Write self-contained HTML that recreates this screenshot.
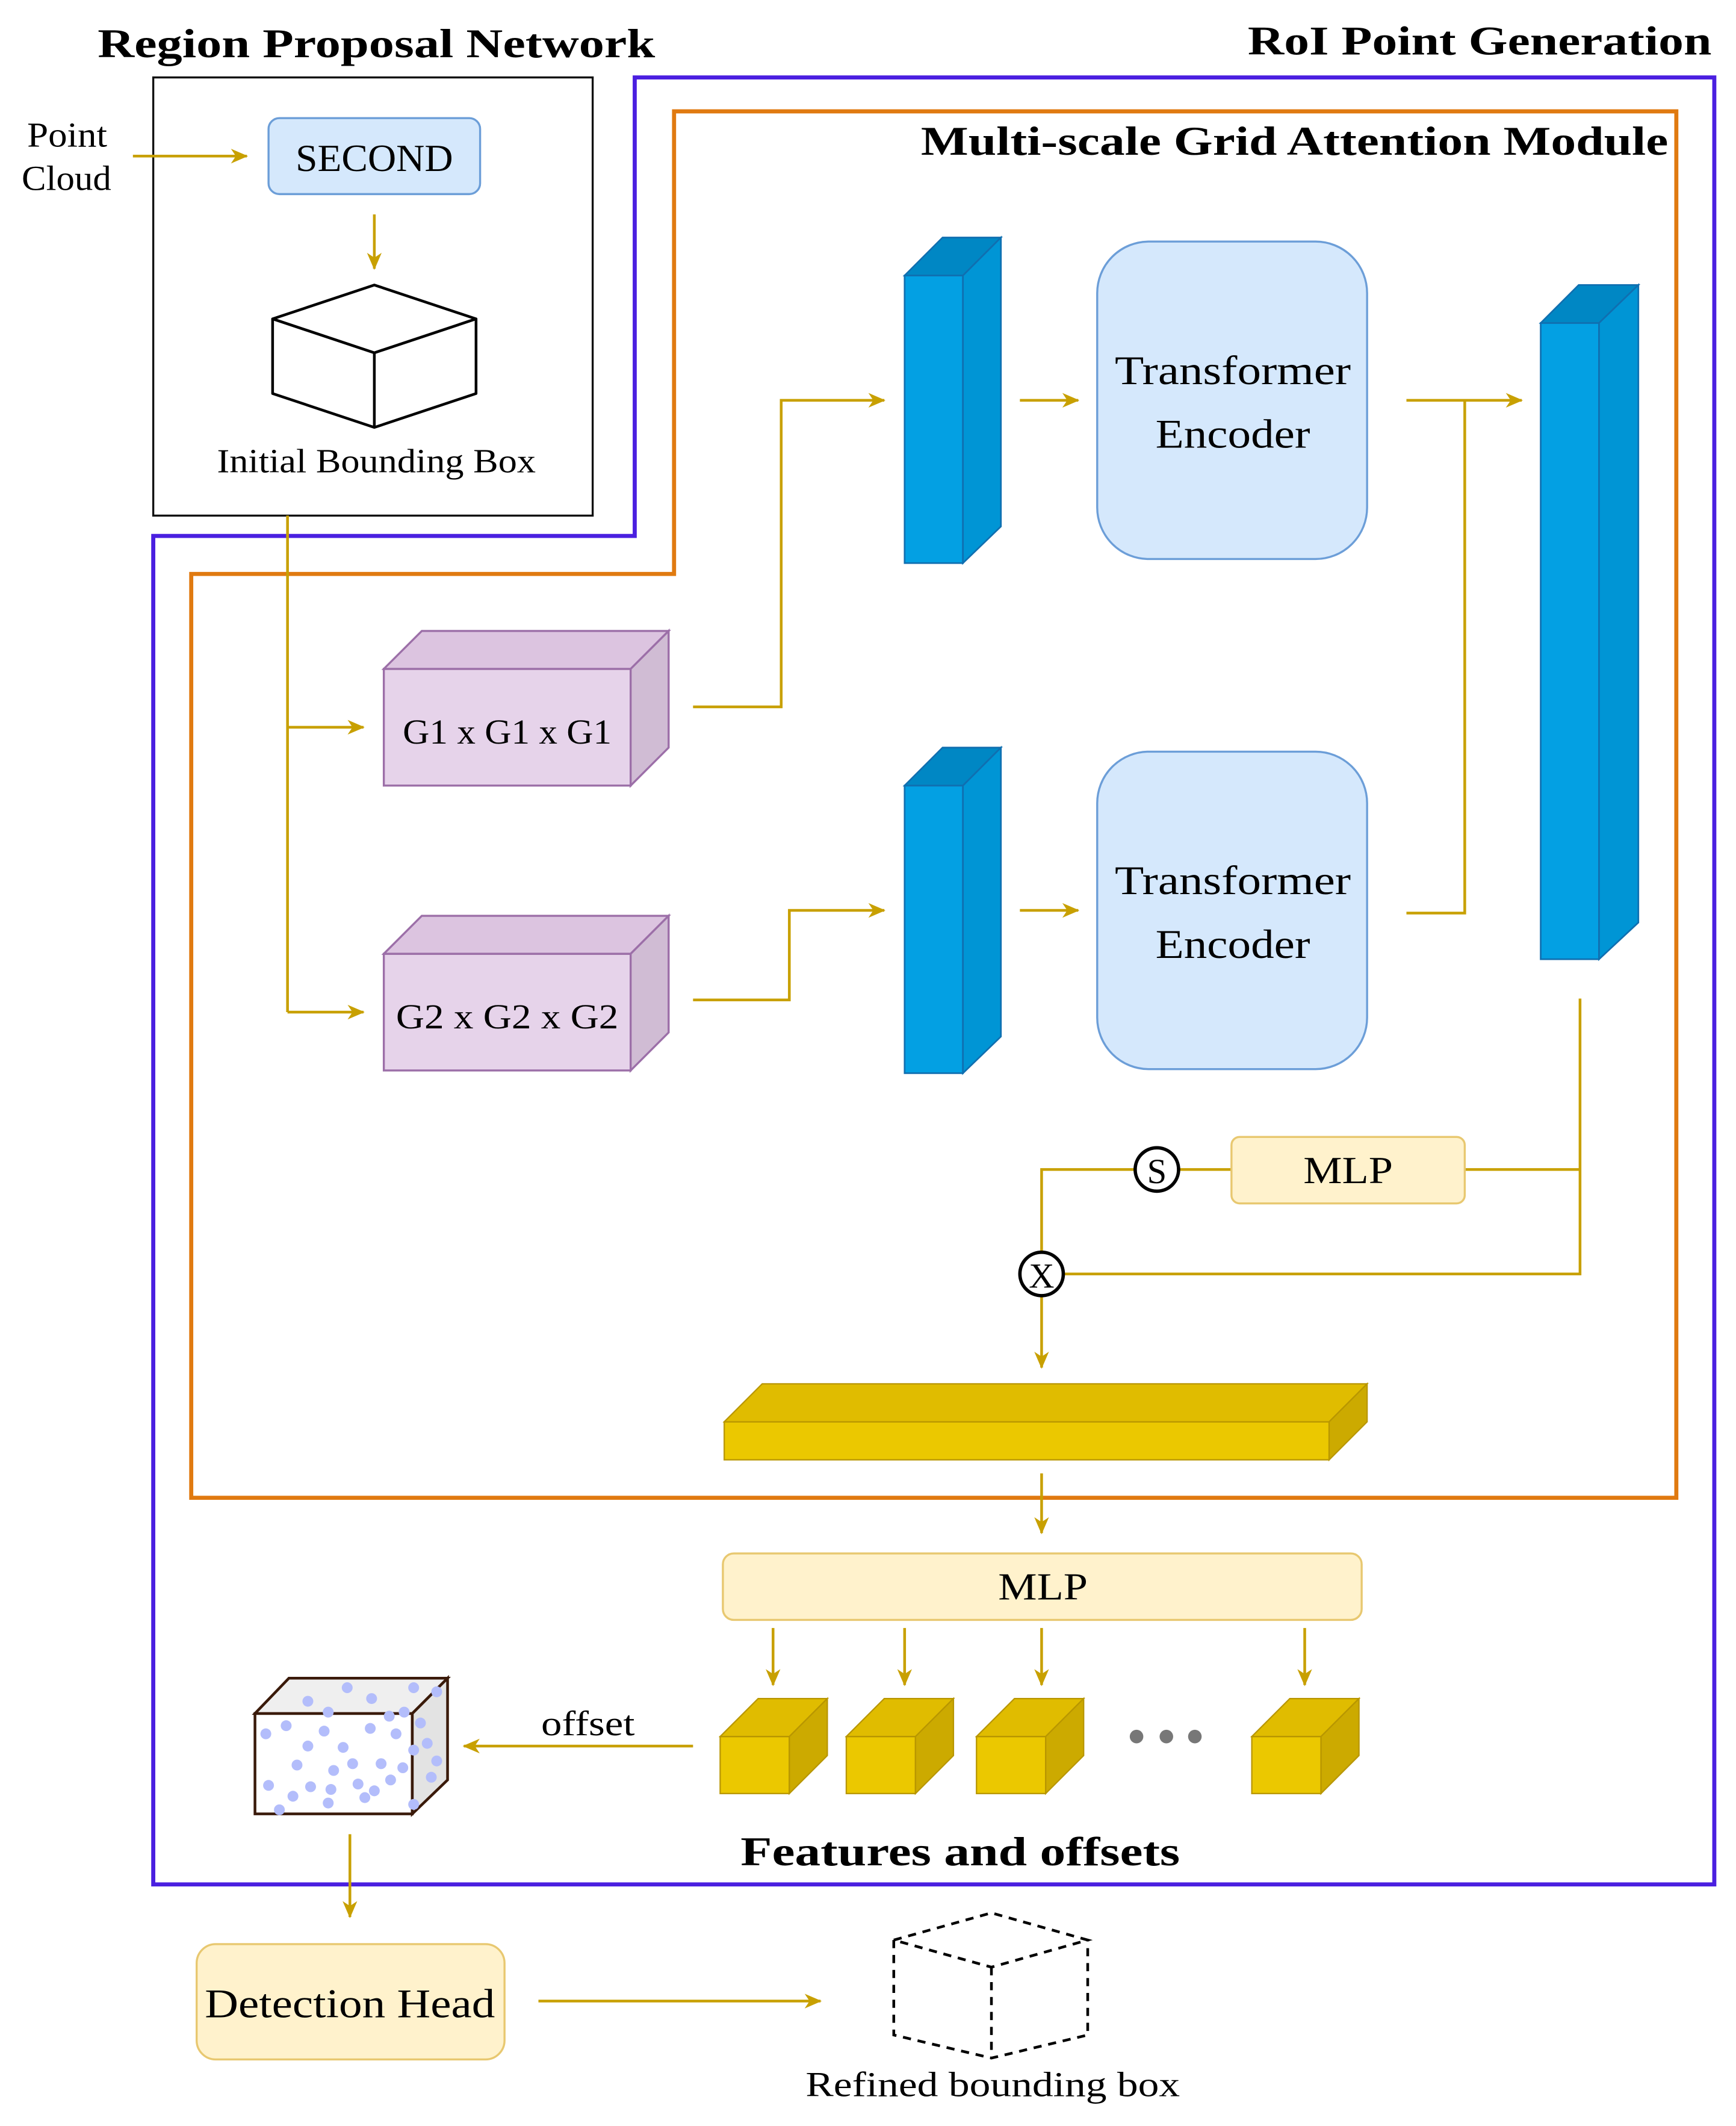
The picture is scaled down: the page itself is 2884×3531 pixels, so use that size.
<!DOCTYPE html>
<html><head><meta charset="utf-8"><style>html,body{margin:0;padding:0;background:#fff}svg{display:block}</style></head>
<body>
<svg width="2884" height="3531" viewBox="0 0 1280 1567" xmlns="http://www.w3.org/2000/svg" font-family="'Liberation Serif', serif">
<defs>
<marker id="a" viewBox="0 0 10 10" refX="9" refY="5" markerWidth="9" markerHeight="9" orient="auto" markerUnits="userSpaceOnUse" style="overflow:visible">
<path d="M-4,-1 L10,5 L-4,11 L0,5 Z" fill="#c8a000"/>
</marker>
</defs>
<rect width="1280" height="1567" fill="#fff"/>
<g fill="none" stroke-width="3">
<path d="M468,57 H1264 V1389 H113 V395 H468 Z" stroke="#4a1fe0"/>
<path d="M497,82 H1236 V1104 H141 V423 H497 Z" stroke="#e07a10"/>
</g>
<rect x="113" y="57" width="324" height="323" fill="none" stroke="#111" stroke-width="1.5"/>
<g font-weight="bold" font-size="30" fill="#000" lengthAdjust="spacingAndGlyphs">
<text x="72" y="42" textLength="411" lengthAdjust="spacingAndGlyphs">Region Proposal Network</text>
<text x="920" y="40" textLength="342" lengthAdjust="spacingAndGlyphs">RoI Point Generation</text>
<text x="679" y="114" textLength="551" lengthAdjust="spacingAndGlyphs">Multi-scale Grid Attention Module</text>
<text x="546" y="1375" textLength="324" lengthAdjust="spacingAndGlyphs">Features and offsets</text>
</g>
<g font-size="26" fill="#000">
<text x="20" y="108" textLength="59" lengthAdjust="spacingAndGlyphs">Point</text>
<text x="16" y="140" textLength="66" lengthAdjust="spacingAndGlyphs">Cloud</text>
<text x="160" y="348" font-size="25" textLength="235" lengthAdjust="spacingAndGlyphs">Initial Bounding Box</text>
<text x="399" y="1279" textLength="69" lengthAdjust="spacingAndGlyphs">offset</text>
<text x="594" y="1545" textLength="276" lengthAdjust="spacingAndGlyphs">Refined bounding box</text>
</g>
<g stroke="#c8a000" stroke-width="2" fill="none">
<path d="M98,115 H182" marker-end="url(#a)"/>
<path d="M276,158 V198" marker-end="url(#a)"/>
<path d="M212,380 V746"/>
<path d="M212,536 H268" marker-end="url(#a)"/>
<path d="M212,746 H268" marker-end="url(#a)"/>
<path d="M511,521 H576 V295 H652" marker-end="url(#a)"/>
<path d="M511,737 H582 V671 H652" marker-end="url(#a)"/>
<path d="M752,295 H795" marker-end="url(#a)"/>
<path d="M752,671 H795" marker-end="url(#a)"/>
<path d="M1037,295 H1122" marker-end="url(#a)"/>
<path d="M1080,295 V673 H1037"/>
<path d="M1165,736 V939 H784"/>
<path d="M1080,862 H1165"/>
<path d="M908,862 H870"/>
<path d="M837,862 H768 V923"/>
<path d="M768,955 V1008" marker-end="url(#a)"/>
<path d="M768,1086 V1130" marker-end="url(#a)"/>
<path d="M570,1200 V1242" marker-end="url(#a)"/>
<path d="M667,1200 V1242" marker-end="url(#a)"/>
<path d="M768,1200 V1242" marker-end="url(#a)"/>
<path d="M962,1200 V1242" marker-end="url(#a)"/>
<path d="M511,1287 H342" marker-end="url(#a)"/>
<path d="M258,1352 V1413" marker-end="url(#a)"/>
<path d="M397,1475 H605" marker-end="url(#a)"/>
</g>
<rect x="198" y="87" width="156" height="56" rx="8" fill="#d5e8fc" stroke="#6c9ed8" stroke-width="1.5"/>
<text x="218" y="126" font-size="28" textLength="116" lengthAdjust="spacingAndGlyphs">SECOND</text>
<g fill="#fff" stroke="#000" stroke-width="2" stroke-linejoin="round">
<path d="M201,235 L276,210 L351,235 L276,260 Z"/>
<path d="M201,235 V290 L276,315 L351,290 V235 L276,260 Z"/>
<path d="M276,260 V315"/>
</g>
<g stroke="#9c6fa8" stroke-width="1.5">
<rect x="283" y="493" width="182" height="86" fill="#e6d3ea"/>
<path d="M283,493 L311,465 L493,465 L465,493 Z" fill="#dcc4e0"/>
<path d="M465,493 L493,465 L493,551 L465,579 Z" fill="#d0bcd4"/>
<rect x="283" y="703" width="182" height="86" fill="#e6d3ea"/>
<path d="M283,703 L311,675 L493,675 L465,703 Z" fill="#dcc4e0"/>
<path d="M465,703 L493,675 L493,761 L465,789 Z" fill="#d0bcd4"/>
</g>
<text x="297" y="548" font-size="26" textLength="154" lengthAdjust="spacingAndGlyphs">G1 x G1 x G1</text>
<text x="292" y="758" font-size="26" textLength="164" lengthAdjust="spacingAndGlyphs">G2 x G2 x G2</text>
<g stroke="#106fb0" stroke-width="1.2">
<rect x="667" y="203" width="43" height="212" fill="#03a0e3"/>
<path d="M667,203 L695,175 L738,175 L710,203 Z" fill="#0087c4"/>
<path d="M710,203 L738,175 L738,388 L710,415 Z" fill="#0095d5"/>
<rect x="667" y="579" width="43" height="212" fill="#03a0e3"/>
<path d="M667,579 L695,551 L738,551 L710,579 Z" fill="#0087c4"/>
<path d="M710,579 L738,551 L738,764 L710,791 Z" fill="#0095d5"/>
<rect x="1136" y="238" width="43" height="469" fill="#03a0e3"/>
<path d="M1136,238 L1164,210 L1208,210 L1179,238 Z" fill="#0087c4"/>
<path d="M1179,238 L1208,210 L1208,680 L1179,707 Z" fill="#0095d5"/>
</g>
<g fill="#d5e8fc" stroke="#6c9ed8" stroke-width="1.5">
<rect x="809" y="178" width="199" height="234" rx="38"/>
<rect x="809" y="554" width="199" height="234" rx="38"/>
</g>
<g font-size="30">
<text x="822" y="283" textLength="174" lengthAdjust="spacingAndGlyphs">Transformer</text><text x="852" y="330" textLength="114" lengthAdjust="spacingAndGlyphs">Encoder</text>
<text x="822" y="659" textLength="174" lengthAdjust="spacingAndGlyphs">Transformer</text><text x="852" y="706" textLength="114" lengthAdjust="spacingAndGlyphs">Encoder</text>
</g>
<g fill="#fff2cc" stroke="#e8c870" stroke-width="1.5">
<rect x="908" y="838" width="172" height="49" rx="6"/>
<rect x="533" y="1145" width="471" height="49" rx="8"/>
<rect x="145" y="1433" width="227" height="85" rx="14"/>
</g>
<text x="961" y="872" font-size="28" textLength="66" lengthAdjust="spacingAndGlyphs">MLP</text>
<text x="736" y="1179" font-size="28" textLength="66" lengthAdjust="spacingAndGlyphs">MLP</text>
<text x="151" y="1487" font-size="30" textLength="214" lengthAdjust="spacingAndGlyphs">Detection Head</text>
<g fill="#fff" stroke="#000" stroke-width="2.5">
<circle cx="853" cy="862" r="16"/><circle cx="768" cy="939" r="16"/>
</g>
<text x="853" y="872" font-size="26" text-anchor="middle">S</text>
<text x="768" y="949" font-size="26" text-anchor="middle">X</text>
<g stroke="#b89600" stroke-width="1">
<rect x="534" y="1048" width="446" height="28" fill="#ebc800"/>
<path d="M534,1048 L562,1020 L1008,1020 L980,1048 Z" fill="#e0bc00"/>
<path d="M980,1048 L1008,1020 L1008,1048 L980,1076 Z" fill="#ccaa00"/>
</g>
<g stroke="#b89600" stroke-width="1">
<rect x="531" y="1280" width="51" height="42" fill="#ebc800"/>
<path d="M531,1280 L559,1252 L610,1252 L582,1280 Z" fill="#e0bc00"/>
<path d="M582,1280 L610,1252 L610,1294 L582,1322 Z" fill="#ccaa00"/>
<rect x="624" y="1280" width="51" height="42" fill="#ebc800"/>
<path d="M624,1280 L652,1252 L703,1252 L675,1280 Z" fill="#e0bc00"/>
<path d="M675,1280 L703,1252 L703,1294 L675,1322 Z" fill="#ccaa00"/>
<rect x="720" y="1280" width="51" height="42" fill="#ebc800"/>
<path d="M720,1280 L748,1252 L799,1252 L771,1280 Z" fill="#e0bc00"/>
<path d="M771,1280 L799,1252 L799,1294 L771,1322 Z" fill="#ccaa00"/>
<rect x="923" y="1280" width="51" height="42" fill="#ebc800"/>
<path d="M923,1280 L951,1252 L1002,1252 L974,1280 Z" fill="#e0bc00"/>
<path d="M974,1280 L1002,1252 L1002,1294 L974,1322 Z" fill="#ccaa00"/>
</g>
<g fill="#777"><circle cx="838" cy="1280" r="5"/><circle cx="860" cy="1280" r="5"/><circle cx="881" cy="1280" r="5"/></g>
<g stroke="#3a1a0a" stroke-width="2">
<rect x="188" y="1263" width="116" height="74" fill="#fff"/>
<path d="M188,1263 L213,1237 L330,1237 L304,1263 Z" fill="#efefef"/>
<path d="M304,1263 L330,1237 L330,1312 L304,1337 Z" fill="#e3e3e3"/>
</g>
<g fill="#b3bdfb">
<circle cx="227" cy="1254" r="4"/><circle cx="256" cy="1244" r="4"/><circle cx="274" cy="1252" r="4"/><circle cx="305" cy="1244" r="4"/><circle cx="322" cy="1247" r="4"/><circle cx="242" cy="1262" r="4"/><circle cx="298" cy="1262" r="4"/>
<circle cx="196" cy="1278" r="4"/><circle cx="211" cy="1272" r="4"/><circle cx="227" cy="1287" r="4"/><circle cx="239" cy="1276" r="4"/><circle cx="253" cy="1288" r="4"/><circle cx="273" cy="1274" r="4"/><circle cx="287" cy="1265" r="4"/><circle cx="292" cy="1278" r="4"/><circle cx="219" cy="1301" r="4"/><circle cx="246" cy="1305" r="4"/><circle cx="260" cy="1300" r="4"/><circle cx="281" cy="1300" r="4"/><circle cx="198" cy="1316" r="4"/><circle cx="229" cy="1317" r="4"/><circle cx="244" cy="1319" r="4"/><circle cx="264" cy="1315" r="4"/><circle cx="288" cy="1312" r="4"/><circle cx="297" cy="1303" r="4"/><circle cx="216" cy="1324" r="4"/><circle cx="242" cy="1329" r="4"/><circle cx="206" cy="1334" r="4"/><circle cx="269" cy="1325" r="4"/><circle cx="276" cy="1320" r="4"/><circle cx="310" cy="1270" r="4"/><circle cx="315" cy="1285" r="4"/><circle cx="322" cy="1298" r="4"/><circle cx="318" cy="1310" r="4"/><circle cx="305" cy="1290" r="4"/><circle cx="305" cy="1330" r="4"/>
</g>
<g fill="none" stroke="#000" stroke-width="2" stroke-dasharray="6,5">
<path d="M659,1430 L731,1410 L802,1430 L731,1450 Z"/>
<path d="M659,1430 V1500 L731,1517 L802,1500 V1430"/>
<path d="M731,1450 V1517"/>
</g>
</svg>
</body></html>
